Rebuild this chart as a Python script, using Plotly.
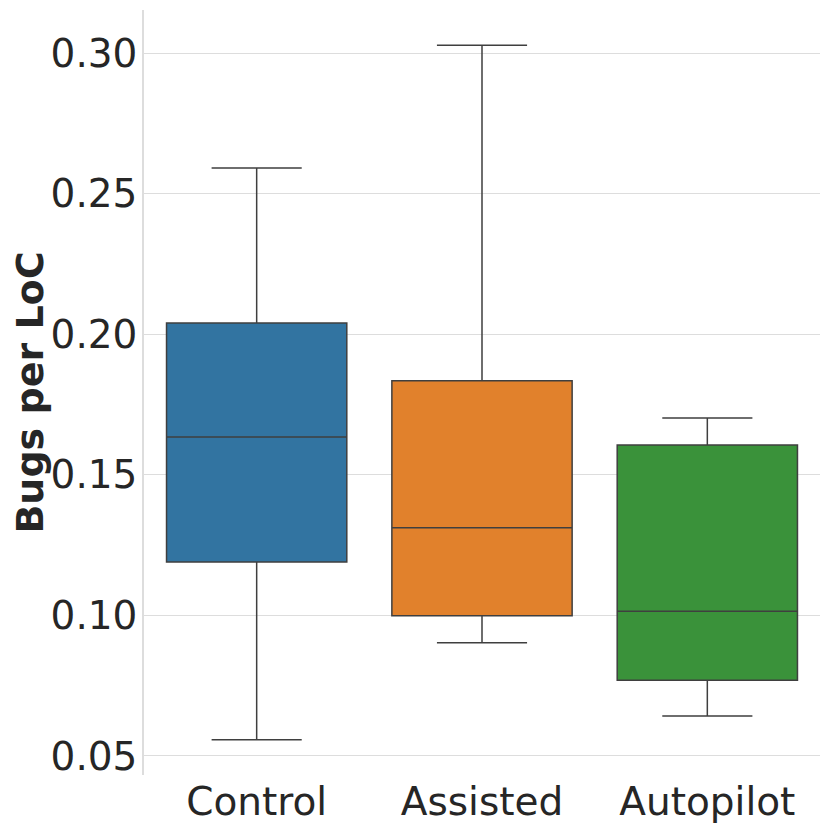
import plotly.graph_objects as go

groups = ["Control", "Assisted", "Autopilot"]
lower = [0.0557, 0.0902, 0.0642]
q1 = [0.1190, 0.0998, 0.0769]
median = [0.1634, 0.1311, 0.1014]
q3 = [0.2040, 0.1834, 0.1606]
upper = [0.2591, 0.3028, 0.1702]
colors = ["#3274a1", "#e1812c", "#3a923a"]

fig = go.Figure()
for i, g in enumerate(groups):
    fig.add_trace(go.Box(
        x=[g], q1=[q1[i]], median=[median[i]], q3=[q3[i]],
        lowerfence=[lower[i]], upperfence=[upper[i]],
        fillcolor=colors[i], line=dict(color="#3f3f3f", width=1.5),
        width=0.8, whiskerwidth=0.5, boxpoints=False, showlegend=False,
        hoverinfo="y",
    ))

# page body has an 8px margin, so the figure is a bit smaller and shifted
fig.update_layout(
    width=822, height=822,
    margin=dict(l=136, r=10, t=2, b=55),
    plot_bgcolor="white", paper_bgcolor="white",
    font=dict(family="DejaVu Sans", size=39, color="#262626"),
)
fig.update_xaxes(
    range=[-0.5, 2.5], showgrid=False, showline=False, zeroline=False,
    ticks="", tickfont=dict(size=39), automargin=False,
)
fig.update_yaxes(
    range=[0.0432, 0.3153], tickvals=[0.05, 0.10, 0.15, 0.20, 0.25, 0.30],
    tickformat=".2f", showgrid=True, gridcolor="#dddddd", gridwidth=1,
    showline=True, linecolor="#dddddd", linewidth=1.5, zeroline=False,
    ticks="", tickfont=dict(size=39), automargin=False, ticklabelstandoff=-3,
    title=dict(text="<b>Bugs per LoC</b>", font=dict(size=38), standoff=10),
)

fig.write_html("out.html")
